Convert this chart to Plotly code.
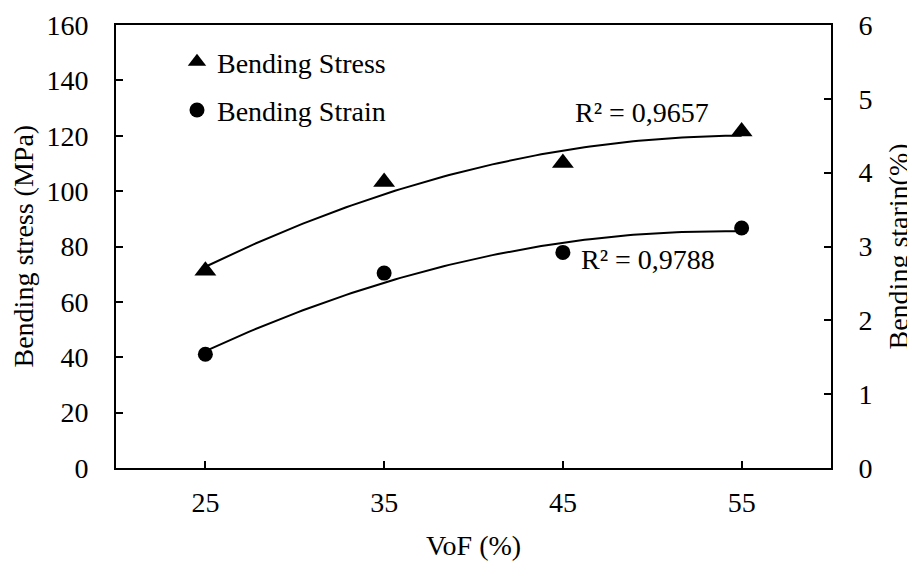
import numpy as np
import plotly.graph_objects as go

vof = [25, 35, 45, 55]
stress = [71.2, 103.3, 110.2, 121.5]
strain = [1.54, 2.64, 2.92, 3.25]
r2_stress = "R² = 0,9657"
r2_strain = "R² = 0,9788"
x_title = "VoF (%)"
y_title = "Bending stress (MPa)"
y2_title = "Bending starin(%)"

FONT = "Liberation Serif"
FS = 28

xs = np.linspace(min(vof), max(vof), 100)
fit_stress = np.polyval(np.polyfit(vof, stress, 2), xs)
fit_strain = np.polyval(np.polyfit(vof, strain, 2), xs)

fig = go.Figure()
fig.add_trace(go.Scatter(x=xs, y=fit_stress, mode="lines", line=dict(color="black", width=2),
                         showlegend=False, hoverinfo="skip"))
fig.add_trace(go.Scatter(x=xs, y=fit_strain, mode="lines", line=dict(color="black", width=2),
                         showlegend=False, hoverinfo="skip", yaxis="y2"))
fig.add_trace(go.Scatter(x=vof, y=stress, mode="markers", name="Bending Stress",
                         legendgroup="a",
                         marker=dict(symbol="triangle-up", size=19, color="black")))
fig.add_trace(go.Scatter(x=vof, y=strain, mode="markers", name="Bending Strain",
                         legendgroup="b", yaxis="y2",
                         marker=dict(symbol="circle", size=15, color="black")))

fig.add_annotation(x=49.43, y=4.81, xref="x", yref="y2", text=r2_stress, showarrow=False,
                   font=dict(family=FONT, size=FS, color="black"))
fig.add_annotation(x=49.76, y=2.82, xref="x", yref="y2", text=r2_strain, showarrow=False,
                   font=dict(family=FONT, size=FS, color="black"))

# axis titles placed as annotations
fig.add_annotation(x=0, y=0.5, xref="paper", yref="paper", text=y_title, showarrow=False,
                   textangle=-90, xanchor="center", yanchor="middle", xshift=-93,
                   font=dict(family=FONT, size=FS, color="black"))
fig.add_annotation(x=1, y=0.5, xref="paper", yref="paper", text=y2_title, showarrow=False,
                   textangle=-90, xanchor="center", yanchor="middle", xshift=67,
                   font=dict(family=FONT, size=FS, color="black"))
fig.add_annotation(x=0.5, y=0, xref="paper", yref="paper", text=x_title, showarrow=False,
                   xanchor="center", yanchor="middle", yshift=-77,
                   font=dict(family=FONT, size=FS, color="black"))

axis_common = dict(showline=True, linecolor="black", linewidth=2, ticks="inside",
                   ticklen=7, tickwidth=1.5, tickcolor="black", showgrid=False, zeroline=False,
                   automargin=False,
                   tickfont=dict(family=FONT, size=FS, color="black"))

fig.update_layout(
    width=907, height=553,
    margin=dict(l=108, r=84, t=17, b=93),
    paper_bgcolor="white", plot_bgcolor="white",
    font=dict(family=FONT, size=FS, color="black"),
    xaxis=dict(range=[20, 60], tickvals=vof, mirror=True, ticklabelstandoff=8, **axis_common),
    yaxis=dict(range=[0, 160], dtick=20, ticklabelstandoff=20, **axis_common),
    yaxis2=dict(range=[0, 6], dtick=1, overlaying="y", side="right", ticklabelstandoff=20,
                **axis_common),
    legend=dict(x=0.0853, y=0.973, xanchor="left", yanchor="top", bgcolor="rgba(0,0,0,0)",
                font=dict(family=FONT, size=FS, color="black"), tracegroupgap=9,
                traceorder="grouped", itemwidth=30),
)

fig.write_html("out.html")
